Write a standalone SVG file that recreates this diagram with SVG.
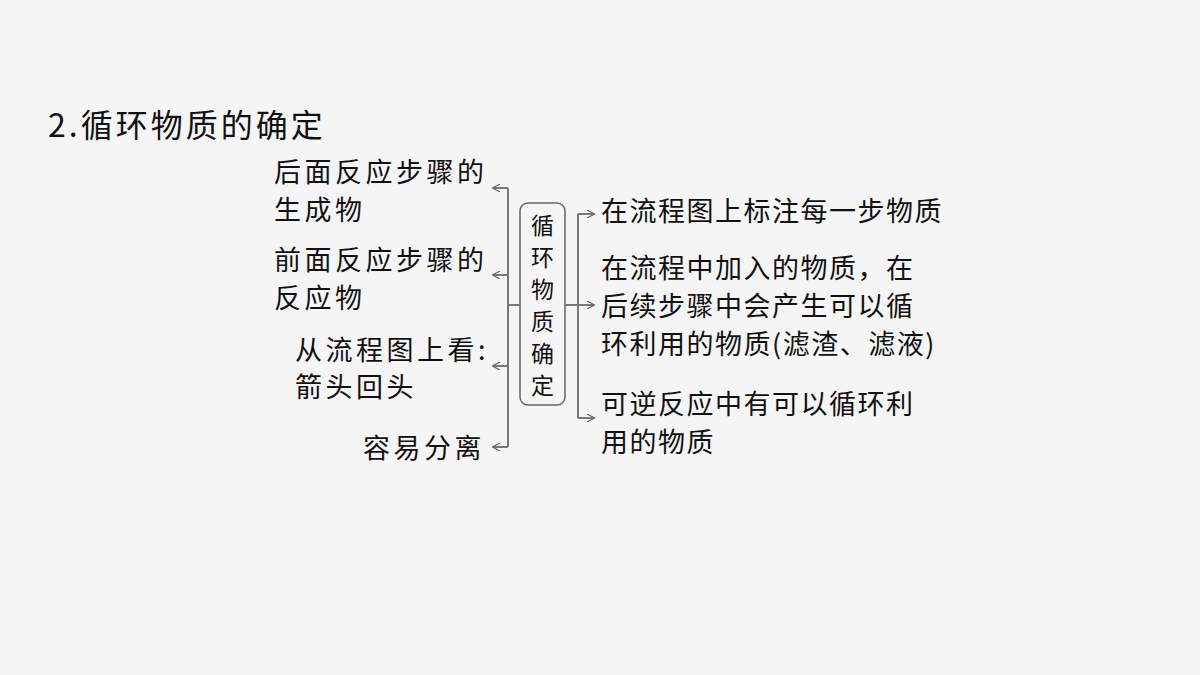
<svg xmlns="http://www.w3.org/2000/svg" width="1200" height="675" viewBox="0 0 1200 675">
<defs>
<marker id="ah" viewBox="0 0 10 10" refX="9" refY="5" markerWidth="8" markerHeight="8" orient="auto" markerUnits="userSpaceOnUse"><path d="M0,0 L10,5 L0,10" fill="none" stroke="#666" stroke-width="1.5"/></marker>
</defs>
<style>
text{font-family:"Noto Sans CJK SC","Liberation Serif",serif;font-size:27px;fill:#111;letter-spacing:1.5px}
.L{letter-spacing:3.5px}
.c{stroke:#777;stroke-width:2;fill:none}
.v{font-size:23px;letter-spacing:0}
</style>
<rect width="1200" height="675" fill="#f5f5f5"/>
<text x="48" y="137" style="font-size:32px;letter-spacing:3px">2.循环物质的确定</text>
<g id="center"><rect x="520" y="203" width="45" height="202" rx="8" fill="none" stroke="#666" stroke-width="1.5"/>
<text class="v" x="542.5" y="234" text-anchor="middle">循</text><text class="v" x="542.5" y="266" text-anchor="middle">环</text><text class="v" x="542.5" y="298" text-anchor="middle">物</text><text class="v" x="542.5" y="330" text-anchor="middle">质</text><text class="v" x="542.5" y="362" text-anchor="middle">确</text><text class="v" x="542.5" y="394" text-anchor="middle">定</text></g>
<g id="connectors">
<path class="c" d="M520,305 H508 M508,188 V447"/>
<path class="c" d="M508,188 H493" marker-end="url(#ah)"/>
<path class="c" d="M508,275 H493" marker-end="url(#ah)"/>
<path class="c" d="M508,366 H493" marker-end="url(#ah)"/>
<path class="c" d="M508,447 H493" marker-end="url(#ah)"/>
<path class="c" d="M565,305 H578 M578,214 V418"/>
<path class="c" d="M578,214 H594" marker-end="url(#ah)"/>
<path class="c" d="M578,305 H594" marker-end="url(#ah)"/>
<path class="c" d="M578,418 H594" marker-end="url(#ah)"/>
</g>
<g id="l1"><text class="L" x="274" y="182">后面反应步骤的</text><text class="L" x="274" y="220">生成物</text></g>
<g id="l2"><text class="L" x="274" y="270">前面反应步骤的</text><text class="L" x="274" y="308">反应物</text></g>
<g id="l3"><text class="L" x="295" y="360">从流程图上看:</text><text class="L" x="295" y="397">箭头回头</text></g>
<g id="l4"><text class="L" x="485" y="458" text-anchor="end">容易分离</text></g>
<g id="r1"><text x="601" y="221">在流程图上标注每一步物质</text></g>
<g id="r2"><text x="601" y="278">在流程中加入的物质，在</text><text x="601" y="316">后续步骤中会产生可以循</text><text x="601" y="354">环利用的物质(滤渣、滤液)</text></g>
<g id="r3"><text x="601" y="414">可逆反应中有可以循环利</text><text x="601" y="452">用的物质</text></g>
</svg>
